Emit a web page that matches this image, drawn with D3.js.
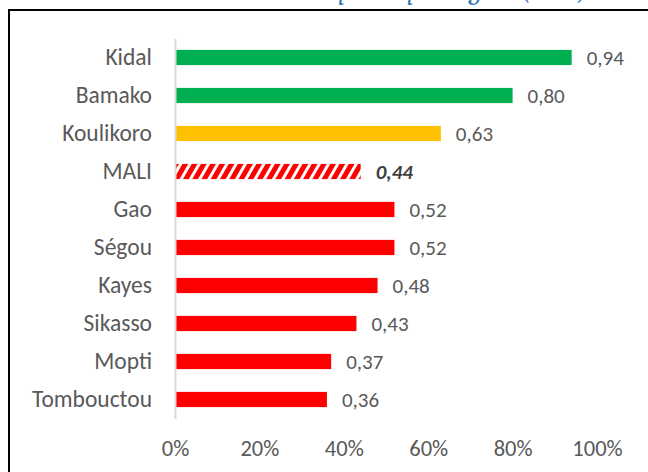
<!DOCTYPE html>
<html lang="fr">
<head>
    <meta charset="UTF-8">
    <script src="https://d3js.org/d3.v7.min.js"></script>
    <style>
        body { margin: 0; background: #fff; }
        svg text { font-family: Calibri, Carlito, "Open Sans", sans-serif; }
    </style>
</head>
<body>
    <script>
        // data
        const regions = ["Kidal", "Bamako", "Koulikoro", "MALI", "Gao", "Ségou", "Kayes", "Sikasso", "Mopti", "Tombouctou"];
        const values = [0.94, 0.80, 0.63, 0.44, 0.52, 0.52, 0.48, 0.43, 0.37, 0.36];
        const groups = ["high", "high", "mid", "total", "low", "low", "low", "low", "low", "low"];
        const xTicks = [0, 0.2, 0.4, 0.6, 0.8, 1];

        const w = 648;
        const h = 472;
        const colors = {high: "#00B050", mid: "#FFC000", low: "#FF0000"};

        const svg = d3.select("body").append("svg")
            .attr("width", w)
            .attr("height", h);

        // hatch pattern for the national bar
        const defs = svg.append("defs");
        const pat = defs.append("pattern")
            .attr("id", "hatch")
            .attr("patternUnits", "userSpaceOnUse")
            .attr("width", 8)
            .attr("height", 8)
            .attr("patternTransform", "rotate(30)");
        pat.append("rect").attr("width", 8).attr("height", 8).attr("fill", "#fff");
        pat.append("rect").attr("width", 5).attr("height", 8).attr("fill", "#FF0000");

        // title, cut off by the top of the picture (only descenders show)
        svg.append("text")
            .attr("x", 588)
            .attr("y", -1.5)
            .attr("text-anchor", "end")
            .attr("fill", "#2E74B5")
            .style("font-family", "Cambria, Caladea, 'Liberation Serif', serif")
            .style("font-style", "italic")
            .style("font-size", "26px")
            .text("Indice de parité par région (2018)");

        // frame
        svg.append("rect")
            .attr("x", 9)
            .attr("y", 10)
            .attr("width", 700)
            .attr("height", 500)
            .attr("fill", "none")
            .attr("stroke", "#000")
            .attr("stroke-width", 2);

        //scales
        const x = d3.scaleLinear()
            .domain([0, 1])
            .range([175, 597]);

        const y = d3.scaleBand()
            .domain(regions)
            .range([38.5, 418.5])
            .paddingInner(0.6)
            .paddingOuter(0.3);

        //bars
        svg.selectAll(".bar")
            .data(regions)
            .enter()
            .append("rect")
            .attr("class", "bar")
            .attr("x", x(0))
            .attr("y", d => y(d))
            .attr("width", (d, i) => x(values[i]) - x(0))
            .attr("height", y.bandwidth())
            .attr("fill", (d, i) => groups[i] === "total" ? "url(#hatch)" : colors[groups[i]]);

        //value labels
        svg.selectAll(".val")
            .data(regions)
            .enter()
            .append("text")
            .attr("class", "val")
            .attr("x", (d, i) => x(values[i]) + 15)
            .attr("y", d => y(d) + y.bandwidth() / 2)
            .attr("dy", "0.35em")
            .attr("fill", (d, i) => groups[i] === "total" ? "#404040" : "#595959")
            .style("font-size", "21px")
            .style("font-weight", (d, i) => groups[i] === "total" ? "bold" : "normal")
            .style("font-style", (d, i) => groups[i] === "total" ? "italic" : "normal")
            .text((d, i) => values[i].toFixed(2).replace(".", ","));

        //y axis
        const yAxis = svg.append("g")
            .attr("transform", "translate(" + x(0) + ",0)")
            .call(d3.axisLeft(y).tickSize(0).tickPadding(23));
        yAxis.select(".domain")
            .attr("stroke", "#d9d9d9")
            .attr("stroke-width", 2);
        yAxis.selectAll("text")
            .attr("fill", "#595959")
            .style("font-size", "23.5px");

        //x axis
        const xAxis = svg.append("g")
            .attr("transform", "translate(0,418)")
            .call(d3.axisBottom(x).tickValues(xTicks).tickFormat(d3.format(".0%")).tickSize(0).tickPadding(22));
        xAxis.select(".domain").remove();
        xAxis.selectAll("text")
            .attr("fill", "#595959")
            .style("font-size", "22.5px");
    </script>
</body>
</html>
